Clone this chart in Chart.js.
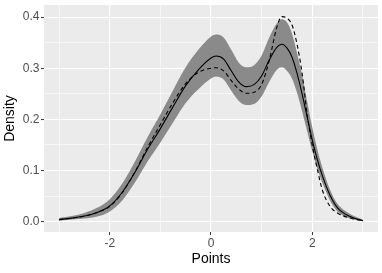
<!DOCTYPE html>
<html><head><meta charset="utf-8">
<script src="https://cdn.jsdelivr.net/npm/chart.js@4.4.0/dist/chart.umd.min.js"></script>
<style>html,body{margin:0;padding:0;background:#fff;overflow:hidden}canvas{display:block}</style>
</head><body>
<canvas id="c" width="382" height="273"></canvas>
<script>
// Data
const points    = [-3, -2.75, -2.5, -2.25, -2, -1.75, -1.5, -1.25, -1, -0.75, -0.5, -0.25, 0, 0.1, 0.25, 0.4, 0.55, 0.7, 0.85, 1.0, 1.15, 1.3, 1.4, 1.5, 1.6, 1.7, 1.8, 1.9, 2.0, 2.1, 2.2, 2.35, 2.5, 2.75, 3];
const fitted    = [0.004, 0.007, 0.011, 0.018, 0.031, 0.058, 0.097, 0.142, 0.182, 0.225, 0.266, 0.297, 0.320, 0.324, 0.318, 0.295, 0.273, 0.264, 0.268, 0.285, 0.316, 0.341, 0.347, 0.340, 0.322, 0.290, 0.250, 0.205, 0.160, 0.122, 0.090, 0.052, 0.027, 0.010, 0.002];
const reference = [0.004, 0.007, 0.011, 0.018, 0.030, 0.057, 0.098, 0.146, 0.190, 0.233, 0.270, 0.292, 0.300, 0.301, 0.295, 0.276, 0.259, 0.251, 0.253, 0.268, 0.315, 0.380, 0.401, 0.398, 0.385, 0.347, 0.290, 0.210, 0.150, 0.103, 0.062, 0.030, 0.017, 0.007, 0.002];
const bandLower = [0.002, 0.004, 0.006, 0.010, 0.020, 0.042, 0.077, 0.118, 0.155, 0.194, 0.232, 0.259, 0.280, 0.284, 0.278, 0.256, 0.236, 0.228, 0.230, 0.245, 0.273, 0.297, 0.302, 0.295, 0.280, 0.252, 0.216, 0.177, 0.138, 0.104, 0.076, 0.042, 0.020, 0.006, 0.001];
const bandUpper = [0.007, 0.011, 0.017, 0.027, 0.044, 0.075, 0.118, 0.166, 0.210, 0.257, 0.302, 0.336, 0.362, 0.366, 0.360, 0.336, 0.311, 0.302, 0.306, 0.325, 0.360, 0.388, 0.396, 0.390, 0.368, 0.330, 0.287, 0.235, 0.185, 0.142, 0.106, 0.063, 0.035, 0.015, 0.004];
const xMajorTicks = [-2, 0, 2];
const xMinorTicks = [-3, -1, 1, 3];
const yMajorTicks = [0, 0.1, 0.2, 0.3, 0.4];
const yMinorTicks = [0.05, 0.15, 0.25, 0.35];

const toXY = arr => points.map((x, i) => ({x: x, y: arr[i]}));
const isIn = (list, v) => list.some(m => Math.abs(m - v) < 1e-9);
const FONT = "'Liberation Sans', Arial, Helvetica, sans-serif";

const panelBg = {
  id: 'panelBg',
  beforeDraw(chart) {
    const {ctx, chartArea: a} = chart;
    ctx.save();
    ctx.fillStyle = '#EBEBEB';
    ctx.fillRect(a.left, a.top, a.right - a.left, a.bottom - a.top);
    ctx.restore();
  }
};

function gridFor(majors) {
  return {
    color: '#FFFFFF',
    lineWidth: c => (c.tick && isIn(majors, c.tick.value)) ? 1.1 : 0.55,
    tickColor: c => (c.tick && isIn(majors, c.tick.value)) ? '#333333' : 'rgba(0,0,0,0)',
    tickWidth: 1,
    tickLength: 3,
    drawOnChartArea: true,
    drawTicks: true
  };
}

new Chart(document.getElementById('c'), {
  type: 'line',
  data: {
    datasets: [
      {data: toXY(bandLower), borderWidth: 0, pointRadius: 0, fill: false, order: 3, cubicInterpolationMode: 'monotone', borderColor: 'rgba(0,0,0,0)'},
      {data: toXY(bandUpper), borderWidth: 0, pointRadius: 0, fill: '-1', backgroundColor: '#8A8A8A', order: 2, cubicInterpolationMode: 'monotone', borderColor: 'rgba(0,0,0,0)'},
      {data: toXY(fitted), borderColor: '#000000', borderWidth: 1.1, pointRadius: 0, fill: false, order: 0, cubicInterpolationMode: 'monotone'},
      {data: toXY(reference), borderColor: '#000000', borderWidth: 1.1, borderDash: [4, 3], pointRadius: 0, fill: false, order: 1, cubicInterpolationMode: 'monotone'}
    ]
  },
  options: {
    responsive: false,
    animation: false,
    devicePixelRatio: 1,
    layout: {padding: {left: 0, right: 4, top: 5, bottom: 0}},
    plugins: {legend: {display: false}, tooltip: {enabled: false}},
    scales: {
      x: {
        type: 'linear', min: -3.3, max: 3.3,
        border: {display: false},
        grid: gridFor(xMajorTicks),
        afterBuildTicks: s => { s.ticks = [...xMajorTicks, ...xMinorTicks].sort((a, b) => a - b).map(v => ({value: v})); },
        afterFit: s => { s.height = 41; s.paddingLeft = 0; s.paddingRight = 0; },
        ticks: {
          autoSkip: false, maxRotation: 0, padding: 1,
          color: '#4D4D4D', font: {family: FONT, size: 12},
          callback: v => isIn(xMajorTicks, v) ? String(v) : ''
        },
        title: {display: true, text: 'Points', color: '#000000', font: {family: FONT, size: 14}, padding: {top: 0, bottom: 5}}
      },
      y: {
        type: 'linear', min: -0.0202, max: 0.4237,
        border: {display: false},
        grid: gridFor(yMajorTicks),
        afterBuildTicks: s => { s.ticks = [...yMajorTicks, ...yMinorTicks].sort((a, b) => a - b).map(v => ({value: v})); },
        afterFit: s => { s.width = 44; s.paddingTop = 0; s.paddingBottom = 0; },
        ticks: {
          autoSkip: false, padding: 1.5,
          color: '#4D4D4D', font: {family: FONT, size: 12},
          callback: v => isIn(yMajorTicks, v) ? v.toFixed(1) : ''
        },
        title: {display: true, text: 'Density', color: '#000000', font: {family: FONT, size: 14}, padding: {top: 2, bottom: 0}}
      }
    }
  },
  plugins: [panelBg]
});
</script>
</body></html>
